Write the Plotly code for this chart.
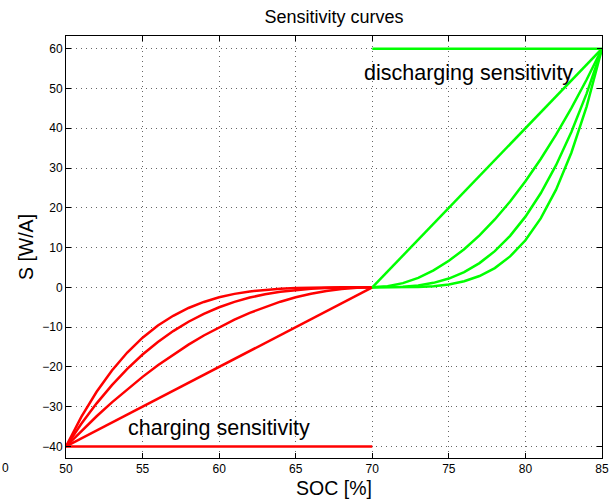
import plotly.graph_objects as go

# ---- data ----
soc_charge = [50, 51, 52, 53, 54, 55, 56, 57, 58, 59, 60, 61, 62, 63, 64, 65, 66, 67, 68, 69, 70]
charge_lin_x = [50, 70]
charge_lin_y = [-40, 0]
charge_n2 = [-40, -36.1, -32.4, -28.9, -25.6, -22.5, -19.6, -16.9, -14.4, -12.1, -10,
             -8.1, -6.4, -4.9, -3.6, -2.5, -1.6, -0.9, -0.4, -0.1, 0]
charge_n3 = [-40, -34.3, -29.16, -24.57, -20.48, -16.88, -13.72, -10.99, -8.64, -6.66, -5,
             -3.65, -2.56, -1.72, -1.08, -0.63, -0.32, -0.14, -0.04, -0.01, 0]
charge_n4 = [-40, -32.58, -26.24, -20.88, -16.38, -12.66, -9.60, -7.14, -5.18, -3.66, -2.5,
             -1.64, -1.02, -0.60, -0.32, -0.16, -0.06, -0.02, 0, 0, 0]
charge_flat_x = [50, 70]
charge_flat_y = [-40, -40]

soc_discharge = [70, 71, 72, 73, 74, 75, 76, 77, 78, 79, 80, 81, 82, 83, 84, 85]
discharge_lin_x = [70, 85]
discharge_lin_y = [0, 60]
discharge_n2 = [0, 0.27, 1.07, 2.4, 4.27, 6.67, 9.6, 13.07, 17.07, 21.6, 26.67, 32.27, 38.4, 45.07, 52.27, 60]
discharge_n3 = [0, 0.02, 0.14, 0.48, 1.14, 2.22, 3.84, 6.10, 9.10, 12.96, 17.78, 23.66, 30.72, 39.06, 48.78, 60]
discharge_n4 = [0, 0.00, 0.02, 0.10, 0.30, 0.74, 1.54, 2.85, 4.85, 7.78, 11.85, 17.35, 24.58, 33.85, 45.53, 60]
discharge_flat_x = [70, 85]
discharge_flat_y = [60, 60]

x_ticks = [50, 55, 60, 65, 70, 75, 80, 85]
y_ticks = [-40, -30, -20, -10, 0, 10, 20, 30, 40, 50, 60]

RED = "#ff0000"
GREEN = "#00ff00"
LW = 2.5
FONT = "Liberation Sans, Arial, sans-serif"

fig = go.Figure()
for xs, ys in [(charge_lin_x, charge_lin_y), (soc_charge, charge_n2), (soc_charge, charge_n3),
               (soc_charge, charge_n4), (charge_flat_x, charge_flat_y)]:
    fig.add_trace(go.Scatter(x=xs, y=ys, mode="lines", line=dict(color=RED, width=LW), showlegend=False))
for xs, ys in [(discharge_lin_x, discharge_lin_y), (soc_discharge, discharge_n2), (soc_discharge, discharge_n3),
               (soc_discharge, discharge_n4), (discharge_flat_x, discharge_flat_y)]:
    fig.add_trace(go.Scatter(x=xs, y=ys, mode="lines", line=dict(color=GREEN, width=LW), showlegend=False))

axis_common = dict(
    showline=True, linecolor="black", linewidth=1, mirror="ticks",
    ticks="inside", ticklen=5, tickcolor="black", automargin=False,
    showgrid=True, gridcolor="#666666", griddash="1px,4px", gridwidth=1,
    zeroline=False, tickfont=dict(family=FONT, size=12, color="black"),
)

fig.update_layout(
    width=613, height=501,
    margin=dict(l=66, r=11, t=36, b=43),
    paper_bgcolor="white", plot_bgcolor="white",
    font=dict(family=FONT, color="black"),
    title=dict(text="Sensitivity curves", x=0.545, xanchor="center", y=0.966, yanchor="middle",
               font=dict(family=FONT, size=18, color="black")),
    xaxis=dict(range=[50, 85], tickvals=x_ticks,
               title=dict(text="SOC [%]", font=dict(family=FONT, size=19.5), standoff=5), **axis_common),
    yaxis=dict(range=[-42.9, 63.2], tickvals=y_ticks,
               title=dict(text="S [W/A]", font=dict(family=FONT, size=19.5), standoff=3), **axis_common),
    annotations=[
        dict(x=53.9, y=-35.4, xref="x", yref="y", text="charging sensitivity", showarrow=False,
             xanchor="left", yanchor="middle", font=dict(family=FONT, size=21.5, color="black")),
        dict(x=69.3, y=53.9, xref="x", yref="y", text="discharging sensitivity", showarrow=False,
             xanchor="left", yanchor="middle", font=dict(family=FONT, size=21.5, color="black")),
        dict(x=(0 - 66) / 536, y=-10 / 422, xref="paper", yref="paper", text="0", showarrow=False,
             xanchor="left", yanchor="middle", font=dict(family=FONT, size=12, color="black")),
    ],
)

fig.write_html("out.html")
